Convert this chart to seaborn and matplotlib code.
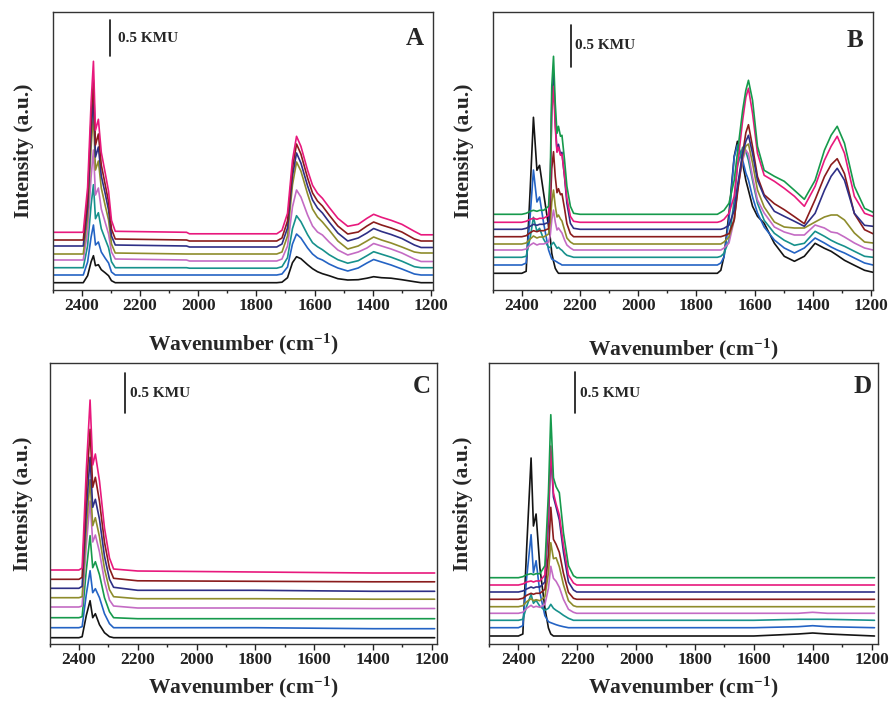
import numpy as np
import pandas as pd
import matplotlib
matplotlib.use('Agg')
import matplotlib.pyplot as plt
import seaborn as sns
from matplotlib.ticker import MultipleLocator

# ---------------- Panel A ----------------
A_wn = [2500, 2395, 2380, 2368, 2360, 2353, 2343, 2333, 2320, 2308, 2298, 2285,
        2040, 2030, 1730, 1712, 1693, 1676, 1662, 1647, 1624, 1607, 1590, 1573,
        1550, 1520, 1486, 1450, 1420, 1397, 1370, 1337, 1300, 1257, 1234, 1195]
A_black = [0, 0, 7, 21, 27, 17, 18, 13, 10, 7, 2, 0, 0, 0, 0, 0.5, 5, 20, 26, 24, 18, 14, 11, 9, 7, 4, 2.7, 3, 4.5, 6, 5, 4.5, 3, 1, 0, 0]
A_blue = [0, 0, 13, 38, 50, 30, 33, 23, 17, 12, 3, 0, 0, 0, 0, 1, 8, 31, 41, 37, 27, 21, 17, 15, 11, 7, 4, 7, 12, 15.5, 13, 10, 6, 1, 0, 0]
A_teal = [0, 0, 22, 63, 83, 49, 55, 39, 29, 20, 6, 0, 0, -0.5, -0.5, 1, 10, 39, 52, 46, 33, 25, 21, 18, 13, 8, 4.5, 7, 12, 16, 13.5, 10.5, 6.5, 1, 0, 0]
A_orchid = [0, 0, 29, 83, 110, 65, 72, 51, 38, 26, 8, 1, 0, -1, -1, 1, 14, 53, 70, 63, 45, 34, 28, 25, 18, 10, 5, 8, 12, 16.5, 14, 11, 7, 1, -1.5, -1.5]
A_olive = [0, 0, 37, 107, 140, 84, 93, 66, 49, 34, 10, 1, 0, 0, 0, 2, 18, 69, 92, 83, 60, 45, 37, 32, 24, 13, 5, 8, 13, 17, 14, 11, 7, 2, 1, 1]
A_navy = [0, 0, 39, 114, 150, 89, 99, 70, 53, 36, 10, 1, 0, -1, -1, 2, 18, 70, 93, 83, 60, 46, 38, 33, 24, 13, 5, 8, 13, 17.5, 14.5, 11.5, 7.5, 1, -1.5, -1.5]
A_maroon = [0, 0, 42, 122, 160, 95, 106, 75, 56, 38, 11, 1, 0, -1, -1, 2, 19, 72, 96, 86, 62, 47, 39, 34, 25, 14, 6, 8, 14, 18, 15, 12, 8, 1, -1, -1]
A_magenta = [0, 0, 45, 130, 171, 102, 113, 80, 60, 41, 12, 1, 0, -1.5, -1.5, 2, 19, 72, 96, 86, 62, 47, 39, 34, 25, 14, 6, 8, 14, 18, 15, 12, 8, 1, -2.5, -2.5]
A_names = ['black', 'blue', 'teal', 'orchid', 'olive', 'navy', 'maroon', 'magenta']
A_offsets = [7.3, 15, 22.3, 30, 36, 44, 50, 57.7]

# ---------------- Panel B ----------------
B_wn = [2500, 2400, 2385, 2371, 2360, 2348, 2339, 2325, 2308, 2302, 2297, 2291, 2285, 2279, 2274, 2267, 2262, 2253, 2245, 2233, 2222, 2200, 1760,
        1728, 1716, 1705, 1688, 1670, 1659, 1641, 1630, 1621, 1607, 1590, 1567, 1532, 1498, 1463, 1429, 1392, 1360, 1337, 1316, 1291, 1257, 1222, 1193]
B_black = [0, 0, 2, 85, 156, 103, 108, 80, 47, 35, 20, 12, 5, 2, 0, 0, 0, 0, 0, 0, 0, 0, 0,
           0, 3, 17, 60, 117, 132, 110, 93, 83, 67, 57, 50, 30, 17, 12, 17, 30, 25, 22, 18, 13, 8, 3, 1]
B_blue = [0, 0, 2, 50, 95, 63, 68, 42, 15, 10, 6, 5, 4, 3, 2, 1, 0, 0, 0, 0, 0, 0, 0,
          0, 2, 8, 45, 108, 120, 105, 92, 85, 68, 52, 38, 25, 17, 12, 17, 27, 22, 18, 15, 12, 7, 2, 0]
B_teal = [0, 0, 1, 20, 40, 26, 29, 18, 10, 10, 13, 15, 12, 9, 10, 8, 7, 4, 2, 1, 0, 0, 0,
          0, 1, 4, 17, 57, 91, 110, 106, 97, 77, 54, 37, 24, 17, 12, 14, 26, 21, 17, 14, 11, 6, 1, 0]
B_orchid = [0, 0, 1, 5, 7, 5, 6, 6, 8, 15, 30, 40, 28, 20, 22, 19, 17, 10, 5, 2, 0, 0, 0,
            0, 0, 2, 7, 30, 60, 90, 100, 96, 73, 50, 37, 23, 18, 15, 15, 25, 22, 18, 17, 13, 7, 2, 0]
B_olive = [0, 0, 1, 5, 8, 6, 7, 7, 10, 22, 42, 54, 38, 27, 29, 25, 23, 14, 6, 2, 0, 0, 0,
           0, 0, 2, 7, 24, 54, 87, 98, 100, 81, 54, 37, 22, 17, 16, 16, 22, 27, 29, 29, 24, 11, 2, 1]
B_maroon = [0, 0, 1, 4, 6, 5, 6, 6, 8, 30, 68, 85, 60, 44, 48, 42, 43, 28, 13, 3, 0, 0, 0,
            0, 0, 1, 3, 17, 43, 83, 104, 112, 90, 60, 42, 33, 27, 20, 13, 37, 60, 72, 78, 63, 23, 7, 3]
B_navy = [0, 0, 1, 3, 5, 4, 5, 5, 7, 42, 125, 155, 108, 78, 85, 75, 77, 52, 26, 6, 1, 0, 0,
          0, 0, 1, 4, 19, 43, 76, 88, 94, 76, 49, 33, 18, 13, 8, 3, 16, 39, 53, 61, 49, 16, 4, 3]
B_magenta = [0, 0, 1, 3, 4, 3, 4, 4, 7, 38, 110, 136, 95, 70, 75, 67, 68, 46, 24, 6, 1, 0, 0,
             0, 1, 3, 9, 26, 56, 102, 125, 134, 109, 69, 47, 41, 34, 26, 16, 36, 62, 76, 86, 69, 26, 9, 6]
B_green = [0, 0, 1, 3, 4, 3, 4, 4, 8, 44, 128, 158, 111, 81, 88, 78, 79, 54, 28, 8, 1, 0, 0,
           0, 2, 4, 11, 34, 61, 104, 124, 134, 114, 68, 44, 38, 33, 24, 15, 34, 64, 79, 88, 71, 28, 6, 2]
B_names = ['black', 'blue', 'teal', 'orchid', 'olive', 'maroon', 'navy', 'magenta', 'green']
B_offsets = [16.7, 25, 32.7, 40, 46, 53.3, 60.7, 67.7, 75.7]

# ---------------- Panel C ----------------
C_wn = [2500, 2400, 2389, 2375, 2362, 2353, 2344, 2330, 2313, 2296, 2282, 2200, 1800, 1400, 1190]
C_black = [0, 0, 1, 22, 37, 20, 24, 13, 5, 1, 0, 0, 0, 0, 0]
C_blue = [0, 0, 1, 33, 57, 35, 39, 30, 14, 4, 0, 0, 0, -1, -1]
C_green = [0, 0, 1, 47, 82, 50, 56, 43, 20, 6, 0, -1, -1, -1, -1]
C_orchid = [0, 0, 1, 61, 106, 65, 72, 55, 26, 7, 1, -1, -1, -1.5, -1.5]
C_olive = [0, 0, 1, 68, 118, 72, 80, 61, 29, 8, 1, -1, -1, -1.5, -1.5]
C_navy = [0, 0, 2, 76, 131, 81, 89, 69, 32, 9, 1, -2, -2, -3, -3]
C_maroon = [0, 0, 2, 87, 150, 92, 102, 78, 37, 11, 1, -1.5, -2, -2.5, -2.5]
C_magenta = [0, 0, 2, 99, 170, 105, 116, 89, 42, 12, 1, -1, -2, -3, -3]
C_names = ['black', 'blue', 'green', 'orchid', 'olive', 'navy', 'maroon', 'magenta']
C_offsets = [6.3, 16.3, 26.3, 37, 46.3, 55.7, 64.7, 74]

# ---------------- Panel D ----------------
D_wn = [2500, 2400, 2385, 2372, 2357, 2349, 2340, 2327, 2310, 2298, 2290, 2281, 2272, 2261, 2247, 2230, 2213, 2202,
        1800, 1600, 1450, 1400, 1350, 1190]
D_black = [0, 0, 2, 88, 178, 110, 122, 68, 28, 8, 2, 0, 0, 0, 0, 0, 0, 0, 0, 0, 2, 3, 2, 0]
D_blue = [0, 0, 2, 50, 93, 55, 67, 35, 12, 6, 5, 4, 3, 2, 1, 0, 0, 0, 0, 0, 1, 2, 1, 0]
D_teal = [0, 0, 1, 14, 26, 17, 20, 14, 10, 12, 16, 12, 10, 8, 5, 2, 0, 0, 0, 0, 1, 1, 1, 0]
D_orchid = [0, 0, 1, 5, 8, 6, 7, 6, 9, 25, 47, 35, 32, 26, 14, 4, 1, 0, 0, 0, 0, 1, 0, 0]
D_olive = [0, 0, 1, 5, 8, 6, 7, 6, 10, 34, 64, 48, 49, 40, 22, 6, 1, 0, 0, 0, 0, 0, 0, 0]
D_maroon = [0, 0, 1, 4, 6, 5, 6, 6, 10, 45, 92, 60, 55, 47, 26, 7, 1, 0, 0, 0, 0, 0, 0, 0]
D_navy = [0, 0, 1, 3, 5, 4, 5, 5, 10, 70, 140, 95, 85, 72, 40, 10, 2, 0, 0, 0, 0, 0, 0, 0]
D_magenta = [0, 0, 1, 3, 4, 3, 4, 4, 10, 72, 139, 92, 81, 70, 40, 10, 2, 0, 0, 0, 0, 0, 0, 0]
D_green = [0, 0, 1, 3, 4, 3, 4, 4, 12, 85, 163, 100, 91, 85, 45, 12, 2, 0, 0, 0, 0, 0, 0, 0]
D_names = ['black', 'blue', 'teal', 'orchid', 'olive', 'maroon', 'navy', 'magenta', 'green']
D_offsets = [8, 16.3, 23.7, 30.7, 37.3, 44.7, 52, 59, 66.3]

COLORS = {'black': '#141414', 'blue': '#2463c4', 'teal': '#17918c', 'orchid': '#c46bc4',
          'olive': '#8e8c2c', 'navy': '#2e2f86', 'maroon': '#8a1c1c', 'magenta': '#e8197d',
          'green': '#169a4c'}

sns.set_style('ticks')
plt.rcParams['font.family'] = ['Liberation Serif', 'DejaVu Serif']
plt.rcParams['font.weight'] = 'bold'
plt.rcParams['mathtext.fontset'] = 'custom'
plt.rcParams['mathtext.rm'] = 'Liberation Serif:bold'
plt.rcParams['mathtext.bf'] = 'Liberation Serif:bold'
plt.rcParams['mathtext.default'] = 'bf'

W, H = 892, 702
fig = plt.figure(figsize=(W / 100, H / 100), dpi=100)


def make_ax(l, t, r, b):
    return fig.add_axes([l / W, 1 - b / H, (r - l) / W, (b - t) / H])


def draw(ax, wn, curves, names, offsets, ylim, xlim, letter, bar, txt, letpos, xlab_y, ylab_x):
    frames = []
    for name, vals, off in zip(names, curves, offsets):
        frames.append(pd.DataFrame({'wn': wn, 'I': np.asarray(vals, float) + off, 'curve': name}))
    df = pd.concat(frames, ignore_index=True)
    sns.lineplot(data=df, x='wn', y='I', hue='curve', hue_order=names,
                 palette={n: COLORS[n] for n in names}, estimator=None, sort=False,
                 lw=1.2, legend=False, ax=ax)
    ax.set_xlim(*xlim)
    ax.set_ylim(*ylim)
    ax.set_yticks([])
    ax.xaxis.set_major_locator(MultipleLocator(200))
    ax.xaxis.set_minor_locator(MultipleLocator(100))
    ax.tick_params(axis='x', which='major', direction='out', length=4, width=1,
                   labelsize=12.5, pad=2, colors='#222222')
    ax.tick_params(axis='x', which='minor', direction='out', length=2.5, width=1, colors='#222222')
    for s in ax.spines.values():
        s.set_linewidth(1.0)
        s.set_color('#333333')
        s.set_visible(True)
    ax.set_xlabel('Wavenumber (cm$^{-1}$)', fontsize=15.5, fontweight='bold')
    ax.set_ylabel('Intensity (a.u.)', fontsize=15.5, fontweight='bold')
    ax.xaxis.set_label_coords(0.5, xlab_y)
    ax.yaxis.set_label_coords(ylab_x, 0.5)
    ax.plot([bar[0], bar[0]], [bar[1], bar[2]], transform=ax.transAxes, color='#111111', lw=1.2)
    ax.text(txt[0], txt[1], '0.5 KMU', transform=ax.transAxes, fontsize=11,
            fontweight='bold', va='center', ha='left')
    ax.text(letpos[0], letpos[1], letter, transform=ax.transAxes, fontsize=18,
            fontweight='bold', va='center', ha='center')


axA = make_ax(52.7, 12, 433, 290)
axB = make_ax(492.7, 12, 873, 290)
axC = make_ax(49.5, 363, 437, 644)
axD = make_ax(489, 363, 878, 644)

draw(axA, A_wn, [A_black, A_blue, A_teal, A_orchid, A_olive, A_navy, A_maroon, A_magenta],
     A_names, A_offsets, (0, 278), (2500, 1193), 'A',
     (0.150, 0.971, 0.842), (0.172, 0.906), (0.951, 0.906), -0.15, -0.05)
draw(axB, B_wn, [B_black, B_blue, B_teal, B_orchid, B_olive, B_maroon, B_navy, B_magenta, B_green],
     B_names, B_offsets, (0, 278), (2500, 1193), 'B',
     (0.205, 0.953, 0.803), (0.217, 0.881), (0.953, 0.899), -0.17, -0.05)
draw(axC, C_wn, [C_black, C_blue, C_green, C_orchid, C_olive, C_navy, C_maroon, C_magenta],
     C_names, C_offsets, (0, 281), (2500, 1182), 'C',
     (0.196, 0.964, 0.822), (0.209, 0.893), (0.96, 0.916), -0.108, -0.042)
draw(axD, D_wn, [D_black, D_blue, D_teal, D_orchid, D_olive, D_maroon, D_navy, D_magenta, D_green],
     D_names, D_offsets, (0, 281), (2500, 1178), 'D',
     (0.221, 0.968, 0.822), (0.234, 0.893), (0.961, 0.915), -0.108, -0.041)

fig.savefig('out.png', dpi=100)
